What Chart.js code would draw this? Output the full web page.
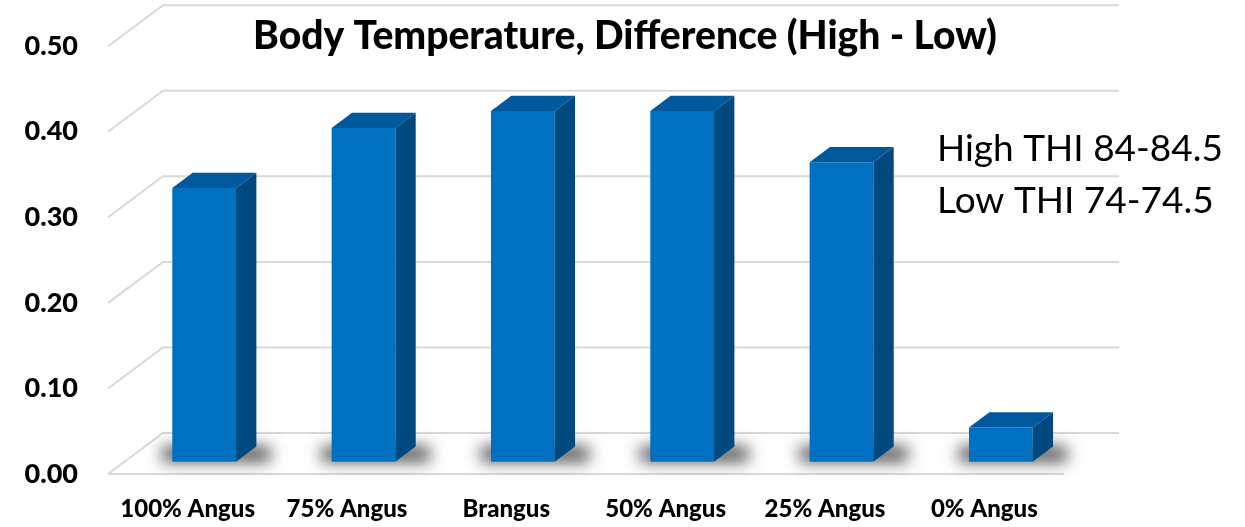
<!DOCTYPE html>
<html>
<head>
<meta charset="utf-8">
<title>Body Temperature, Difference (High - Low)</title>
<script src="https://cdn.jsdelivr.net/npm/chart.js@4.4.1/dist/chart.umd.min.js"></script>
<style>
  html, body { margin: 0; padding: 0; background: #ffffff; }
  #wrap { width: 1245px; height: 527px; }
</style>
</head>
<body>
<div id="wrap"><canvas id="chart" width="1245" height="527"></canvas></div>
<script>
// Breed groups and mean body temperature difference (high THI minus low THI)
const categories = ['100% Angus', '75% Angus', 'Brangus', '50% Angus', '25% Angus', '0% Angus'];
const tempDiff = [0.32, 0.39, 0.41, 0.41, 0.35, 0.04];
const yTicks = [0.00, 0.10, 0.20, 0.30, 0.40, 0.50];
const titleText = 'Body Temperature, Difference (High - Low)';
const noteLines = ['High THI 84-84.5', 'Low THI 74-74.5'];

// Oblique depth of the floor / back wall, and where each column sits in that depth
const DEPTH_X = 55, DEPTH_Y = 41;
const FRONT_F = 0.30, BACK_F = 0.67;
const GRID_COLOR = '#d9d9d9';
const FACE = '#0070c0', TOP = '#00599c', SIDE = '#00497f';

const wallPlugin = {
  id: 'wall3d',
  beforeDatasetsDraw(chart) {
    const { ctx, chartArea, scales } = chart;
    const y = scales.y;
    ctx.save();
    ctx.strokeStyle = GRID_COLOR;
    ctx.lineWidth = 2;
    yTicks.forEach(v => {
      const py = y.getPixelForValue(v);
      ctx.beginPath();
      ctx.moveTo(chartArea.left, py);
      ctx.lineTo(chartArea.left + DEPTH_X, py - DEPTH_Y);
      ctx.lineTo(chartArea.right + DEPTH_X, py - DEPTH_Y);
      ctx.stroke();
    });
    // front edge of the floor
    const p0 = y.getPixelForValue(0);
    ctx.beginPath();
    ctx.moveTo(chartArea.left, p0);
    ctx.lineTo(chartArea.right, p0);
    ctx.stroke();
    ctx.restore();
  }
};

const columnPlugin = {
  id: 'columns3d',
  afterDatasetsDraw(chart) {
    const { ctx } = chart;
    const meta = chart.getDatasetMeta(0);
    const fx = DEPTH_X * FRONT_F, fy = DEPTH_Y * FRONT_F;
    const dx = DEPTH_X * (BACK_F - FRONT_F), dy = DEPTH_Y * (BACK_F - FRONT_F);

    // soft floor shadows under each column
    meta.data.forEach(bar => {
      const p = bar.getProps(['x', 'y', 'base', 'width'], true);
      const l = p.x - p.width / 2 + fx, r = p.x + p.width / 2 + fx;
      const b = p.base - fy;
      ctx.save();
      ctx.shadowColor = 'rgba(0,0,0,0.7)';
      ctx.shadowBlur = 16;
      ctx.shadowOffsetX = 5000;
      ctx.fillStyle = '#000';
      ctx.fillRect(l - 10 - 5000, b - dy, (r + dx + 14) - (l - 10), dy);
      ctx.restore();
    });

    meta.data.forEach(bar => {
      const p = bar.getProps(['x', 'y', 'base', 'width'], true);
      const l = p.x - p.width / 2 + fx, r = p.x + p.width / 2 + fx;
      const t = p.y - fy, b = p.base - fy;
      ctx.save();
      // front face
      ctx.fillStyle = FACE;
      ctx.fillRect(l, t, r - l, b - t);
      // top face
      ctx.fillStyle = TOP;
      ctx.beginPath();
      ctx.moveTo(l, t);
      ctx.lineTo(l + dx, t - dy);
      ctx.lineTo(r + dx, t - dy);
      ctx.lineTo(r, t);
      ctx.closePath();
      ctx.fill();
      // side face
      ctx.fillStyle = SIDE;
      ctx.beginPath();
      ctx.moveTo(r, t);
      ctx.lineTo(r + dx, t - dy);
      ctx.lineTo(r + dx, b - dy);
      ctx.lineTo(r, b);
      ctx.closePath();
      ctx.fill();
      ctx.restore();
    });
  }
};

const textPlugin = {
  id: 'texts',
  afterDraw(chart) {
    const { ctx } = chart;
    ctx.save();
    ctx.fillStyle = '#000';
    ctx.textBaseline = 'alphabetic';
    ctx.textAlign = 'center';
    ctx.font = '900 39px Lato, "Open Sans", sans-serif';
    ctx.fillText(titleText, 625, 49);
    ctx.textAlign = 'left';
    ctx.font = '37px Lato, "Open Sans", sans-serif';
    ctx.fillText(noteLines[0], 937, 161);
    ctx.fillText(noteLines[1], 937, 213);
    ctx.restore();
  }
};

new Chart(document.getElementById('chart'), {
  type: 'bar',
  data: {
    labels: categories,
    datasets: [{
      data: tempDiff,
      backgroundColor: 'rgba(0,0,0,0)',
      borderWidth: 0,
      categoryPercentage: 1.0,
      barPercentage: 0.4
    }]
  },
  options: {
    responsive: false,
    animation: false,
    layout: { padding: { left: 0, right: 181, top: 44, bottom: 0 } },
    plugins: { legend: { display: false }, tooltip: { enabled: false }, title: { display: false } },
    scales: {
      x: {
        grid: { display: false, drawTicks: false },
        border: { display: false },
        ticks: { color: '#000', padding: 21, font: { family: 'Lato', weight: '900', size: 24 } },
        afterFit(scale) { scale.height = 53; }
      },
      y: {
        min: 0, max: 0.5,
        afterBuildTicks(scale) { scale.ticks = yTicks.map(v => ({ value: v })); },
        grid: { display: false, drawTicks: false },
        border: { display: false },
        ticks: {
          color: '#000', padding: 30,
          font: { family: 'Lato', weight: '900', size: 27 },
          callback: v => Number(v).toFixed(2)
        },
        afterFit(scale) { scale.width = 108; }
      }
    }
  },
  plugins: [wallPlugin, columnPlugin, textPlugin]
});
</script>
</body>
</html>
